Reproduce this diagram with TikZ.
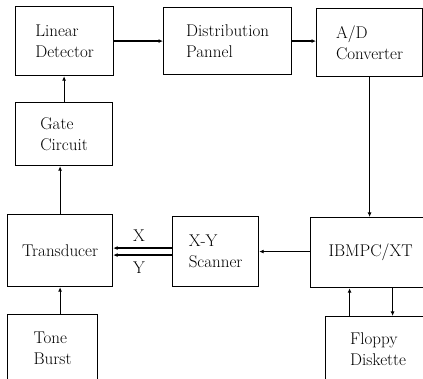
\documentclass[tikz,border=0pt]{standalone}
\usetikzlibrary{arrows.meta,calc}
\begin{document}
\begin{tikzpicture}[x=1pt,y=-1pt,
  box/.style={draw,line width=1.2pt,anchor=north west,align=left,inner sep=0pt,
    font=\fontsize{17}{21}\selectfont},
  lbl/.style={font=\fontsize{17}{21}\selectfont,inner sep=0pt},
  conn/.style={line width=1.2pt,-{Latex[length=4.5pt,width=4pt]}}]
\useasboundingbox (0,0) rectangle (423,379);
\node[box,minimum width=98pt,minimum height=69pt] (LD) at (15,6) {Linear\\Detector};
\node[box,minimum width=128pt,minimum height=67pt] (DP) at (163,7) {Distribution\\Pannel};
\node[box,minimum width=106pt,minimum height=68pt] (AD) at (316,8) {A/D\\Converter};
\node[box,minimum width=97pt,minimum height=63pt] (GC) at (15,102) {Gate\\Circuit};
\node[box,minimum width=105pt,minimum height=72pt] (TR) at (7,214) {Transducer};
\node[box,minimum width=86pt,minimum height=70pt] (XY) at (172,216) {X-Y\\Scanner};
\node[box,minimum width=120pt,minimum height=70pt] (IBM) at (310,217) {IBMPC/XT};
\node[box,minimum width=90pt,minimum height=68pt] (TB) at (7,314) {Tone\\Burst};
\node[box,minimum width=105pt,minimum height=66pt] (FD) at (325,316) {Floppy\\Diskette};
\draw[conn] (LD.east) -- (LD.east -| DP.west);
\draw[conn] (DP.east) -- (DP.east -| AD.west);
\draw[conn] (AD.south) -- (AD.south |- IBM.north);
\draw[conn] (GC.north) -- (GC.north |- LD.south);
\draw[conn] (TR.north) -- (TR.north |- GC.south);
\draw[conn] (TR.south |- TB.north) -- (TR.south);
\draw[conn] (IBM.west |- XY.east) -- (XY.east);
\draw[conn] ([yshift=-3.5pt]XY.west) -- ([yshift=-3.5pt]XY.west -| TR.east);
\draw[conn] ([yshift=3.5pt]XY.west) -- ([yshift=3.5pt]XY.west -| TR.east);
\node[lbl] (lx) at (139,236) {X};
\node[lbl] (ly) at (139,268) {Y};
\draw[conn] ([xshift=-28.5pt]FD.north) -- ([xshift=-28.5pt]FD.north |- IBM.south);
\draw[conn] ([xshift=14.5pt]FD.north |- IBM.south) -- ([xshift=14.5pt]FD.north);
\end{tikzpicture}
\end{document}
